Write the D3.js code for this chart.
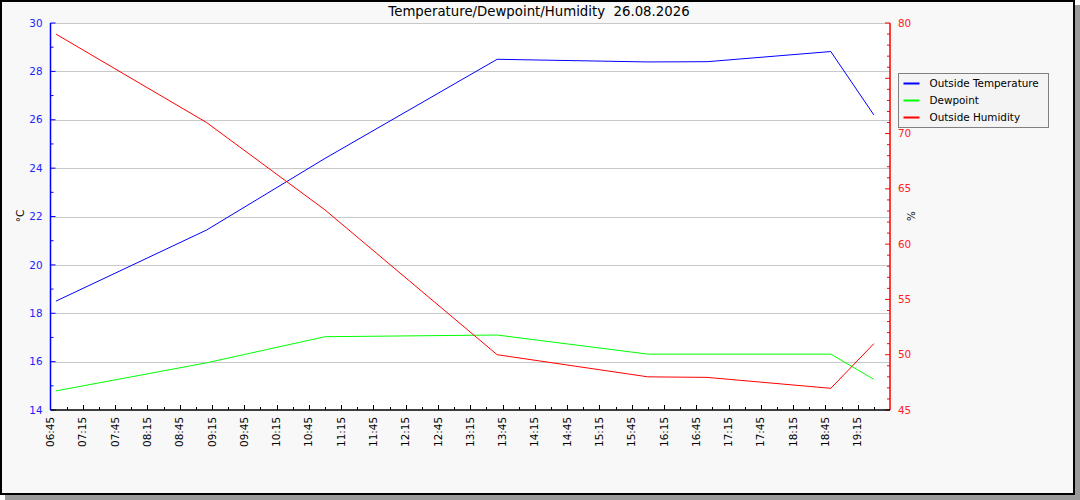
<!DOCTYPE html>
<html>
<head>
<meta charset="utf-8">
<script src="https://cdn.jsdelivr.net/npm/d3@7"></script>
<style>
  body { margin: 0; background: #fff; }
  svg { display: block; font-family: "DejaVu Sans", sans-serif; }
</style>
</head>
<body>
<div id="chart"></div>
<script>
// sample times (HH:MM) on 26.08.2026
const times = ['06:50', '09:10', '11:00', '13:40', '16:00', '16:55', '18:50', '19:30'];
const temperature = [18.5, 21.44, 24.4, 28.5, 28.39, 28.4, 28.82, 26.2];
const dewpoint = [14.79, 15.95, 17.03, 17.1, 16.31, 16.31, 16.31, 15.27];
const humidity = [79.0, 71.0, 63.1, 50.0, 48.0, 47.95, 46.96, 51.0];

const seriesNames = ['Outside Temperature', 'Dewpoint', 'Outside Humidity'];
const seriesColors = ['#0000ff', '#00ff00', '#ff0000'];
const title = 'Temperature/Dewpoint/Humidity\u00a0\u00a026.08.2026';

const W = 1080, H = 500;
const plot = { left: 50.5, right: 890, top: 23, bottom: 410 };

const parseT = d3.timeParse('%Y-%m-%d %H:%M');
const day = '2026-08-26 ';
const dates = times.map(t => parseT(day + t));

const svg = d3.select('#chart').append('svg')
    .attr('width', W)
    .attr('height', H);

// frame + shadow
svg.append('rect')
    .attr('x', 5).attr('y', 5)
    .attr('width', W - 5).attr('height', H - 5)
    .attr('fill', '#9a9a9a');
svg.append('rect')
    .attr('x', 1).attr('y', 1)
    .attr('width', 1073).attr('height', 493)
    .attr('fill', '#f8f8f8')
    .attr('stroke', '#000')
    .attr('stroke-width', 2);

// plot background
svg.append('rect')
    .attr('x', plot.left).attr('y', plot.top)
    .attr('width', plot.right - plot.left)
    .attr('height', plot.bottom - plot.top)
    .attr('fill', '#fff');

const x = d3.scaleTime()
    .domain([parseT(day + '06:45'), parseT(day + '19:45')])
    .range([plot.left, plot.right]);

const yT = d3.scaleLinear().domain([14, 30]).range([plot.bottom, plot.top]);
const yH = d3.scaleLinear().domain([45, 80]).range([plot.bottom, plot.top]);

// gridlines at major left ticks
const majorT = d3.range(14, 31, 2);
svg.append('g').selectAll('line')
    .data(majorT.filter(v => v > 14))
    .enter().append('line')
    .attr('x1', plot.left).attr('x2', plot.right)
    .attr('y1', d => Math.round(yT(d)) + 0.5)
    .attr('y2', d => Math.round(yT(d)) + 0.5)
    .attr('stroke', '#c8c8c8')
    .attr('stroke-width', 1);

// series lines
const series = [temperature, dewpoint, humidity];
const scales = [yT, yT, yH];
series.forEach((vals, i) => {
    const line = d3.line()
        .x((d, j) => x(dates[j]))
        .y(d => scales[i](d));
    svg.append('path')
        .datum(vals)
        .attr('d', line)
        .attr('fill', 'none')
        .attr('stroke', seriesColors[i])
        .attr('stroke-width', 1);
});

// left axis (inward ticks)
const leftAxis = svg.append('g').attr('transform', `translate(${plot.left},0)`);
leftAxis.append('line')
    .attr('y1', plot.top).attr('y2', plot.bottom)
    .attr('stroke', '#0000ff').attr('stroke-width', 1.5);
leftAxis.selectAll('.minor')
    .data(d3.range(15, 30, 2))
    .enter().append('line')
    .attr('x1', 0).attr('x2', 3)
    .attr('y1', d => yT(d)).attr('y2', d => yT(d))
    .attr('stroke', '#0000ff');
leftAxis.selectAll('.major')
    .data(majorT)
    .enter().append('line')
    .attr('x1', 0).attr('x2', 5)
    .attr('y1', d => yT(d)).attr('y2', d => yT(d))
    .attr('stroke', '#0000ff');
leftAxis.selectAll('text')
    .data(majorT)
    .enter().append('text')
    .attr('x', -8)
    .attr('y', d => yT(d))
    .attr('dy', '0.35em')
    .attr('text-anchor', 'end')
    .style('font-size', '10.4px')
    .style('fill', '#2222ff')
    .text(d => d);

// right axis
const majorH = d3.range(45, 81, 5);
const rightAxis = svg.append('g').attr('transform', `translate(${plot.right},0)`);
rightAxis.append('line')
    .attr('y1', plot.top).attr('y2', plot.bottom)
    .attr('stroke', '#ff0000').attr('stroke-width', 1.5);
rightAxis.selectAll('.minor')
    .data(d3.range(45, 81, 1).filter(v => v % 5 !== 0))
    .enter().append('line')
    .attr('x1', -3).attr('x2', 0)
    .attr('y1', d => yH(d)).attr('y2', d => yH(d))
    .attr('stroke', '#ff0000');
rightAxis.selectAll('.major')
    .data(majorH)
    .enter().append('line')
    .attr('x1', -5).attr('x2', 0)
    .attr('y1', d => yH(d)).attr('y2', d => yH(d))
    .attr('stroke', '#ff0000');
rightAxis.selectAll('text')
    .data(majorH)
    .enter().append('text')
    .attr('x', 8)
    .attr('y', d => yH(d))
    .attr('dy', '0.35em')
    .style('font-size', '10.4px')
    .style('fill', '#ff2222')
    .text(d => d);

// bottom axis: labels at :15 and :45, minor ticks at :00 and :30
const bottomAxis = svg.append('g').attr('transform', `translate(0,${plot.bottom})`);
bottomAxis.append('line')
    .attr('x1', plot.left).attr('x2', plot.right)
    .attr('stroke', '#000').attr('stroke-width', 1.5);
const quarterTicks = d3.timeMinute.every(15).range(x.domain()[0], x.domain()[1]);
const majorTicks = quarterTicks.filter(d => d.getMinutes() === 15 || d.getMinutes() === 45);
const minorTicks = quarterTicks.filter(d => d.getMinutes() === 0 || d.getMinutes() === 30);
bottomAxis.selectAll('.minor')
    .data(minorTicks)
    .enter().append('line')
    .attr('x1', d => Math.round(x(d)) + 0.5).attr('x2', d => Math.round(x(d)) + 0.5)
    .attr('y1', -3).attr('y2', 0)
    .attr('stroke', '#000');
bottomAxis.selectAll('.major')
    .data(majorTicks.slice(1))
    .enter().append('line')
    .attr('x1', d => Math.round(x(d)) + 0.5).attr('x2', d => Math.round(x(d)) + 0.5)
    .attr('y1', -5).attr('y2', 0)
    .attr('stroke', '#000');
const fmt = d3.timeFormat('%H:%M');
bottomAxis.selectAll('text')
    .data(majorTicks)
    .enter().append('text')
    .attr('transform', d => `translate(${x(d)},7) rotate(-90)`)
    .attr('dy', '0.35em')
    .attr('text-anchor', 'end')
    .style('font-size', '10.4px')
    .style('fill', '#000')
    .text(d => fmt(d));

// axis titles
svg.append('text')
    .attr('transform', 'translate(20,216) rotate(-90)')
    .attr('dy', '0.35em')
    .attr('text-anchor', 'middle')
    .style('font-size', '10.4px')
    .text('°C');
svg.append('text')
    .attr('transform', 'translate(911,216) rotate(-90)')
    .attr('dy', '0.35em')
    .attr('text-anchor', 'middle')
    .style('font-size', '10.4px')
    .text('%');

// title
svg.append('text')
    .attr('x', 539)
    .attr('y', 11)
    .attr('dy', '0.35em')
    .attr('text-anchor', 'middle')
    .style('font-size', '13.3px')
    .text(title);

// legend
const legend = svg.append('g').attr('transform', 'translate(898.5,73.5)');
legend.append('rect')
    .attr('width', 150).attr('height', 54)
    .attr('fill', '#f4f4f4')
    .attr('stroke', '#808080');
seriesNames.forEach((name, i) => {
    const yy = 10 + i * 17;
    legend.append('line')
        .attr('x1', 5).attr('x2', 21)
        .attr('y1', yy).attr('y2', yy)
        .attr('stroke', seriesColors[i])
        .attr('stroke-width', 2);
    legend.append('text')
        .attr('x', 31).attr('y', yy)
        .attr('dy', '0.35em')
        .style('font-size', '10.4px')
        .text(name);
});
</script>
</body>
</html>
